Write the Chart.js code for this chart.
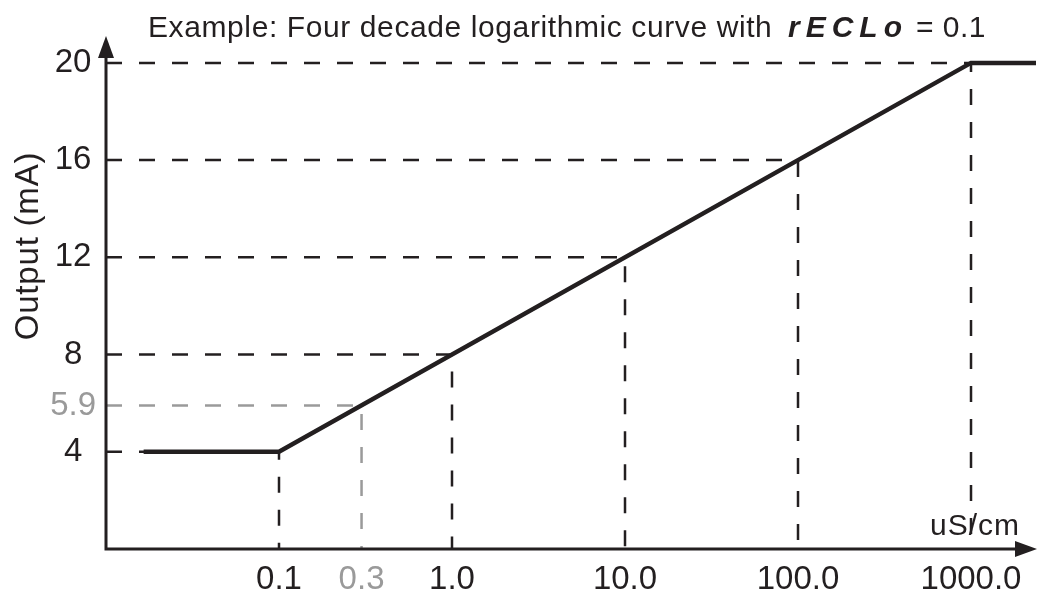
<!DOCTYPE html>
<html>
<head>
<meta charset="utf-8">
<script src="https://cdn.jsdelivr.net/npm/chart.js@4"></script>
<style>
  html, body { margin: 0; padding: 0; background: #fff; }
  #wrap { width: 1038px; height: 592px; }
</style>
</head>
<body>
<div id="wrap"><canvas id="curveChart"></canvas></div>
<script>
// values
const xRange = [0.01, 2375];            // uS/cm, log axis
const yRange = [0, 20.86];              // mA
const curveX = [0.0165, 0.1, 1000, 2375];
const curveY = [4, 4, 20, 20];
const guideX = [0.1, 0.3, 1, 10, 100, 1000];
const guideY = [4, 5.9, 8, 12, 16, 20];
const xTicks = [0.1, 0.3, 1, 10, 100, 1000];
const xTickLabels = ['0.1', '0.3', '1.0', '10.0', '100.0', '1000.0'];
const yTicks = [4, 5.9, 8, 12, 16, 20];
const yTickLabels = ['4', '5.9', '8', '12', '16', '20'];
const greyValue = 0.3;

const INK = '#231f20';
const GREY = '#9a9a9a';
const FONT = '"Liberation Sans", Arial, sans-serif';

const datasets = [];
// dashed guides: from the y axis across to the curve, then down to the x axis
guideX.forEach(function(gx, i) {
    const c = gx === greyValue ? GREY : INK;
    datasets.push({
        data: [{x: xRange[0], y: guideY[i]}, {x: gx, y: guideY[i]}, {x: gx, y: 0}],
        borderColor: c,
        borderWidth: 2.5,
        borderDash: [16, 17],
        pointRadius: 0,
        showLine: true,
        fill: false
    });
});
datasets.push({
    data: curveX.map(function(x, i) { return {x: x, y: curveY[i]}; }),
    borderColor: INK,
    borderWidth: 4.5,
    pointRadius: 0,
    showLine: true,
    fill: false
});

// axes with arrow heads, title and axis labels
const decorPlugin = {
    id: 'decor',
    afterDraw(chart) {
        const ctx = chart.ctx;
        const xs = chart.scales.x, ys = chart.scales.y;
        const x0 = xs.left;
        const y0 = ys.getPixelForValue(0);
        ctx.save();
        ctx.strokeStyle = INK;
        ctx.fillStyle = INK;
        ctx.lineWidth = 3;
        ctx.beginPath();
        ctx.moveTo(x0, y0);
        ctx.lineTo(x0, 50);
        ctx.moveTo(x0 - 1.5, y0);
        ctx.lineTo(1022, y0);
        ctx.stroke();
        // arrow heads
        ctx.beginPath();
        ctx.moveTo(x0, 36);
        ctx.lineTo(x0 - 8, 58);
        ctx.lineTo(x0 + 8, 58);
        ctx.closePath();
        ctx.fill();
        ctx.beginPath();
        ctx.moveTo(1037, y0);
        ctx.lineTo(1015, y0 - 8);
        ctx.lineTo(1015, y0 + 8);
        ctx.closePath();
        ctx.fill();

        // title
        ctx.textBaseline = 'alphabetic';
        ctx.textAlign = 'left';
        ctx.letterSpacing = '0.6px';
        ctx.font = '30px ' + FONT;
        ctx.fillText('Example: Four decade logarithmic curve with', 148, 37);
        ctx.font = 'italic bold 30px ' + FONT;
        ctx.letterSpacing = '6px';
        ctx.fillText('rECLo', 788, 37);
        ctx.font = '30px ' + FONT;
        ctx.letterSpacing = '0.5px';
        ctx.textAlign = 'right';
        ctx.fillText('= 0.1', 986, 37);

        // unit label on x axis
        ctx.textAlign = 'right';
        ctx.font = '30px ' + FONT;
        ctx.letterSpacing = '1px';
        ctx.fillText('uS/cm', 1020, 535);

        // y axis label
        ctx.letterSpacing = '0.8px';
        ctx.font = '33px ' + FONT;
        ctx.textAlign = 'center';
        ctx.translate(38, 246);
        ctx.rotate(-Math.PI / 2);
        ctx.fillText('Output (mA)', 0, 0);
        ctx.restore();
    }
};

new Chart(document.getElementById('curveChart'), {
    type: 'scatter',
    data: { datasets: datasets },
    plugins: [decorPlugin],
    options: {
        responsive: true,
        maintainAspectRatio: false,
        animation: false,
        layout: { padding: { top: 42, right: 2, left: 0, bottom: 0 } },
        plugins: {
            legend: { display: false },
            title: { display: false },
            tooltip: { enabled: false }
        },
        scales: {
            x: {
                type: 'logarithmic',
                min: xRange[0],
                max: xRange[1],
                grid: { display: false, drawTicks: false },
                border: { display: false },
                afterFit(scale) { scale.height = 43; },
                afterBuildTicks(scale) {
                    scale.ticks = xTicks.map(function(v) { return {value: v}; });
                },
                ticks: {
                    autoSkip: false,
                    maxRotation: 0,
                    padding: 11,
                    font: { family: FONT, size: 33 },
                    color: function(c) { return c.tick && c.tick.value === greyValue ? GREY : INK; },
                    callback: function(v) { return xTickLabels[xTicks.indexOf(v)]; }
                }
            },
            y: {
                min: yRange[0],
                max: yRange[1],
                grid: { display: false, drawTicks: false },
                border: { display: false },
                afterFit(scale) { scale.width = 106; },
                afterBuildTicks(scale) {
                    scale.ticks = yTicks.map(function(v) { return {value: v}; });
                },
                ticks: {
                    autoSkip: false,
                    padding: 10,
                    crossAlign: 'center',
                    font: { family: FONT, size: 33 },
                    color: function(c) { return c.tick && c.tick.value === 5.9 ? GREY : INK; },
                    callback: function(v) { return yTickLabels[yTicks.indexOf(v)]; }
                }
            }
        }
    }
});
</script>
</body>
</html>
